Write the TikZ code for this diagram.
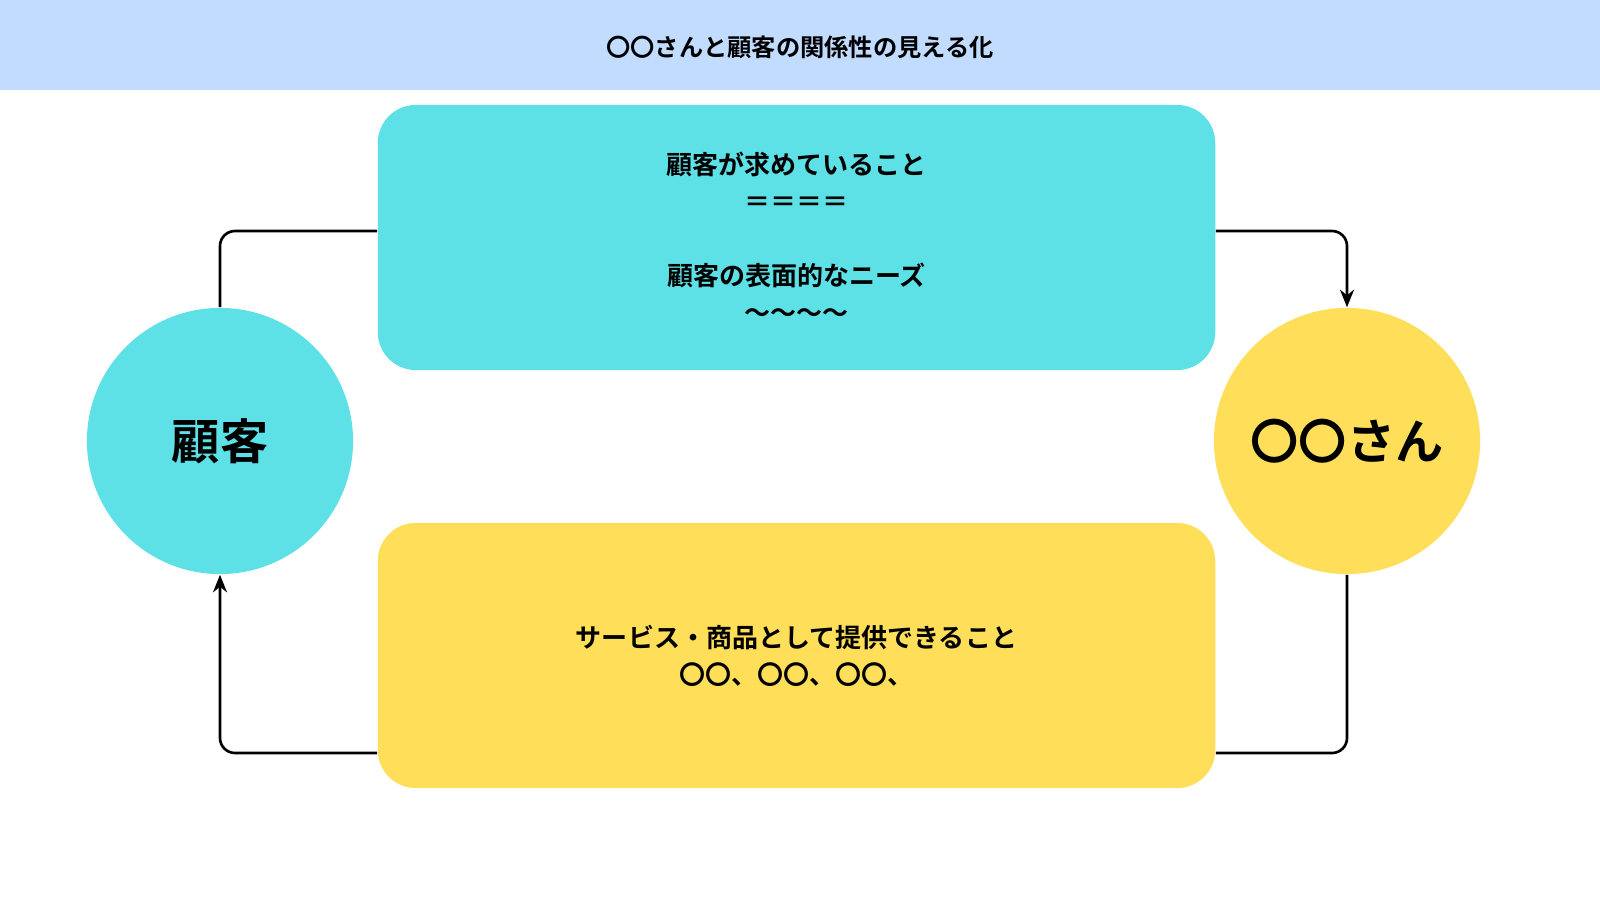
\documentclass[tikz,border=0pt]{standalone}
\usepackage{fontspec}
\usetikzlibrary{arrows.meta}
\newfontfamily\cjk{Noto Sans CJK JP}[BoldFont={* Bold}]
\definecolor{hdr}{HTML}{C2DCFF}
\definecolor{cyanb}{HTML}{5DE0E6}
\definecolor{yelb}{HTML}{FFDE59}
\begin{document}
\begin{tikzpicture}[x=0.01cm,y=-0.01cm,
  box/.style={rounded corners=0.38cm,inner sep=0,minimum width=8.37cm,minimum height=2.65cm,align=center,font=\cjk\bfseries\fontsize{7.4}{10.5}\selectfont},
  circ/.style={circle,minimum size=2.66cm,inner sep=0,font=\cjk\bfseries\fontsize{13.7}{16}\selectfont},
  conn/.style={line width=0.75pt,rounded corners=0.15cm},
  arr/.style={conn,-{Stealth[length=5pt,width=4pt]}}]
\useasboundingbox (0,0) rectangle (1600,900);
\fill[hdr] (0,0) rectangle (1600,90);
\node[font=\cjk\bfseries\fontsize{6.9}{8}\selectfont] (title) at (800,47) {〇〇さんと顧客の関係性の見える化};
\node[box,fill=cyanb] (top) at (796.5,237.5) {顧客が求めていること\\＝＝＝＝\\[10.5pt]顧客の表面的なニーズ\\〜〜〜〜};
\node[box,fill=yelb] (bot) at (796.5,655.5) {サービス・商品として提供できること\\〇〇、〇〇、〇〇、};
\node[circ,fill=cyanb] (cust) at (220,441) {顧客};
\node[circ,fill=yelb] (san) at (1347,441) {〇〇さん};
\draw[conn] (top.west |- 0,231) -| (cust.north);
\draw[arr] (top.east |- 0,231) -| (san.north);
\draw[conn] (san.south) |- (bot.east |- 0,753);
\draw[arr] (bot.west |- 0,753) -| (cust.south);
\end{tikzpicture}
\end{document}
